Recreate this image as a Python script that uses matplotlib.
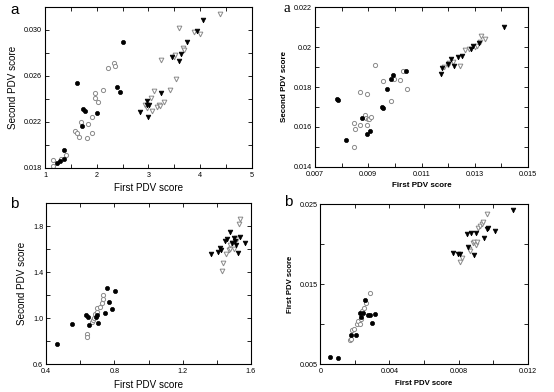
import matplotlib
matplotlib.use("Agg")
import matplotlib.pyplot as plt
from matplotlib.ticker import MultipleLocator, FixedLocator

plt.rcParams['font.family'] = ['Liberation Sans', 'DejaVu Sans']

# ---------------- Panel a (left) ----------------
a1_fc_x = [1.626, 1.729, 1.781, 1.723, 2.00, 2.40, 2.44, 2.50, 1.368, 1.374, 1.29, 1.226]
a1_fc_y = [0.02539, 0.02313, 0.02293, 0.02168, 0.02275, 0.02504, 0.02461, 0.02899, 0.01957, 0.01875, 0.01864, 0.01841]
a1_oc_x = [1.16, 1.148, 1.30, 1.40, 1.58, 1.626, 1.66, 1.70, 1.826, 1.82, 1.90, 1.91, 1.96, 1.97, 2.03, 2.13, 2.21, 2.34, 2.35]
a1_oc_y = [0.01872, 0.01814, 0.01878, 0.0191, 0.0212, 0.0210, 0.02067, 0.0220, 0.0218, 0.0206, 0.0224, 0.0210, 0.0241, 0.0245, 0.0237, 0.0248, 0.02667, 0.02713, 0.02687]
a1_ft_x = [2.84, 2.97, 2.97, 3.01, 3.00, 3.25, 3.46, 3.59, 3.63, 3.74, 3.94, 4.06]
a1_ft_y = [0.0229, 0.0238, 0.02348, 0.02348, 0.02246, 0.0245, 0.02765, 0.02728, 0.02794, 0.02893, 0.02989, 0.03084]
a1_ot_x = [2.94, 2.97, 3.06, 3.05, 3.11, 3.16, 3.21, 3.23, 3.29, 3.25, 3.42, 3.50, 3.52, 3.54, 3.59, 3.66, 3.68, 3.87, 3.99, 4.39]
a1_ot_y = [0.02348, 0.0232, 0.0230, 0.0241, 0.0247, 0.0233, 0.0235, 0.0234, 0.0237, 0.02737, 0.0248, 0.02763, 0.02786, 0.02578, 0.0302, 0.02844, 0.02824, 0.02983, 0.02966, 0.03142]

# ---------------- Panel a (right) ----------------
a2_fc_x = [0.00782, 0.00786, 0.00816, 0.00877, 0.00896, 0.00907, 0.00950, 0.00956, 0.00971, 0.00984, 0.00992, 0.01040]
a2_fc_y = [0.01741, 0.01736, 0.01532, 0.01643, 0.01564, 0.01579, 0.01698, 0.01696, 0.01792, 0.01839, 0.01862, 0.0188]
a2_oc_x = [0.00848, 0.00848, 0.00850, 0.00868, 0.0087, 0.00886, 0.00893, 0.00896, 0.00898, 0.00903, 0.00896, 0.00912, 0.00927, 0.00954, 0.00985, 0.00998, 0.01019, 0.01029, 0.01047]
a2_oc_y = [0.01497, 0.01618, 0.01587, 0.01775, 0.01608, 0.01658, 0.01643, 0.01611, 0.01641, 0.01641, 0.01765, 0.01648, 0.01909, 0.01832, 0.01731, 0.01842, 0.01835, 0.0188, 0.01788]
a2_ft_x = [0.01173, 0.01177, 0.01201, 0.0121, 0.01221, 0.01236, 0.01252, 0.01287, 0.01292, 0.01315, 0.0141]
a2_ft_y = [0.01865, 0.01894, 0.01917, 0.01942, 0.01907, 0.01952, 0.01954, 0.01989, 0.02008, 0.02023, 0.0210]
a2_ot_x = [0.01186, 0.01198, 0.01205, 0.01217, 0.01243, 0.01262, 0.01277, 0.0130, 0.01307, 0.0132, 0.01325, 0.0134]
a2_ot_y = [0.01899, 0.01911, 0.01919, 0.01926, 0.01906, 0.01986, 0.01991, 0.02003, 0.02004, 0.02028, 0.02056, 0.0204]

# ---------------- Panel b (left) ----------------
b1_fc_x = [0.466, 0.554, 0.636, 0.644, 0.652, 0.693, 0.697, 0.703, 0.748, 0.758, 0.769, 0.787, 0.804]
b1_fc_y = [0.777, 0.948, 1.029, 1.015, 0.939, 1.015, 1.026, 0.962, 1.046, 1.267, 1.139, 1.078, 1.235]
b1_oc_x = [0.638, 0.642, 0.668, 0.676, 0.683, 0.687, 0.697, 0.701, 0.717, 0.726, 0.732, 0.736]
b1_oc_y = [0.864, 0.838, 0.968, 0.986, 1.003, 1.035, 1.055, 1.093, 1.102, 1.136, 1.200, 1.171]
b1_ft_x = [1.365, 1.406, 1.420, 1.424, 1.449, 1.459, 1.479, 1.490, 1.498, 1.510, 1.522, 1.537, 1.567, 1.504]
b1_ft_y = [1.560, 1.577, 1.609, 1.591, 1.673, 1.687, 1.751, 1.652, 1.702, 1.638, 1.565, 1.707, 1.652, 1.673]
b1_ot_x = [1.430, 1.434, 1.455, 1.471, 1.479, 1.475, 1.488, 1.510, 1.518, 1.531, 1.537, 1.498]
b1_ot_y = [1.412, 1.484, 1.557, 1.591, 1.606, 1.635, 1.652, 1.702, 1.687, 1.818, 1.867, 1.600]

# ---------------- Panel b (right) ----------------
b2_fc_x = [0.00058, 0.00100, 0.00178, 0.00207, 0.00232, 0.00234, 0.00247, 0.00261, 0.00274, 0.00286, 0.00301, 0.00315]
b2_fc_y = [0.00592, 0.00575, 0.00863, 0.00863, 0.01142, 0.01088, 0.01146, 0.0130, 0.01121, 0.01113, 0.01017, 0.01125]
b2_oc_x = [0.0017, 0.00178, 0.00185, 0.00193, 0.00212, 0.0022, 0.00228, 0.00235, 0.00243, 0.00255, 0.00266, 0.0029]
b2_oc_y = [0.0080, 0.00821, 0.00925, 0.00938, 0.01008, 0.01038, 0.0100, 0.01063, 0.01167, 0.01208, 0.01263, 0.01396]
b2_ft_x = [0.00768, 0.00799, 0.00811, 0.00847, 0.00853, 0.00874, 0.0089, 0.00903, 0.00946, 0.00965, 0.00969, 0.01013, 0.01116]
b2_ft_y = [0.01888, 0.01875, 0.01875, 0.02125, 0.0197, 0.02146, 0.01867, 0.02146, 0.02075, 0.02188, 0.02208, 0.02163, 0.02429]
b2_ot_x = [0.00807, 0.0082, 0.00859, 0.00865, 0.00882, 0.00892, 0.00901, 0.00907, 0.00911, 0.00923, 0.00934, 0.00942, 0.00965]
b2_ot_y = [0.01779, 0.01833, 0.01938, 0.01917, 0.0202, 0.02033, 0.01992, 0.0203, 0.02208, 0.02229, 0.0225, 0.02279, 0.02383]

fig = plt.figure(figsize=(5.54, 3.92), dpi=100)

GRAY = '#8a8a8a'


def draw(ax, fc, oc, ft, ot):
    ms = 3.0
    ax.plot(oc[0], oc[1], 'o', ms=ms, mfc='white', mec=GRAY, mew=0.7, ls='none')
    ax.plot(ot[0], ot[1], 'v', ms=ms + 0.4, mfc='white', mec=GRAY, mew=0.7, ls='none')
    ax.plot(fc[0], fc[1], 'o', ms=ms, mfc='black', mec='black', mew=0.5, ls='none')
    ax.plot(ft[0], ft[1], 'v', ms=ms + 0.4, mfc='black', mec='black', mew=0.5, ls='none')


def style(ax, xlim, ylim, xmaj, xmin, ymaj, ymin, xfmt, yfmt, xlabel, ylabel, bold, lsize):
    ax.set_xlim(*xlim)
    ax.set_ylim(*ylim)
    ax.xaxis.set_major_locator(FixedLocator(xmaj))
    ax.xaxis.set_minor_locator(MultipleLocator(xmin))
    ax.yaxis.set_major_locator(FixedLocator(ymaj))
    ax.yaxis.set_minor_locator(MultipleLocator(ymin))
    ax.set_xticklabels([xfmt(v) for v in xmaj])
    ax.set_yticklabels([yfmt(v) for v in ymaj])
    ax.tick_params(which='both', direction='in', top=True, right=True, labelsize=5.2)
    ax.tick_params(axis='x', pad=3)
    ax.tick_params(axis='y', pad=2)
    ax.tick_params(which='major', length=3, width=0.6)
    ax.tick_params(which='minor', length=3, width=0.6)
    for s in ax.spines.values():
        s.set_linewidth(0.8)
    w = 'bold' if bold else 'normal'
    ax.set_xlabel(xlabel, fontsize=lsize, fontweight=w, labelpad=3)
    ax.set_ylabel(ylabel, fontsize=lsize, fontweight=w, labelpad=4)


# Top-left
ax1 = fig.add_axes([45 / 554, 1 - 168 / 392, 207 / 554, 161 / 392])
draw(ax1, (a1_fc_x, a1_fc_y), (a1_oc_x, a1_oc_y), (a1_ft_x, a1_ft_y), (a1_ot_x, a1_ot_y))
style(ax1, (1, 5), (0.018, 0.032), [1, 2, 3, 4, 5], 0.5,
      [0.018, 0.022, 0.026, 0.030], 0.002,
      lambda v: f"{v:g}", lambda v: f"{v:.3f}",
      "First PDV score", "Second PDV score", False, 7.1)

# Top-right
ax2 = fig.add_axes([315 / 554, 1 - 166.7 / 392, 213 / 554, 159.4 / 392])
draw(ax2, (a2_fc_x, a2_fc_y), (a2_oc_x, a2_oc_y), (a2_ft_x, a2_ft_y), (a2_ot_x, a2_ot_y))
style(ax2, (0.007, 0.015), (0.014, 0.022), [0.007, 0.009, 0.011, 0.013, 0.015], 0.001,
      [0.014, 0.016, 0.018, 0.02, 0.022], 0.001,
      lambda v: f"{v:.3f}", lambda v: f"{v:g}",
      "First PDV score", "Second PDV score", True, 5.8)

# Bottom-left
ax3 = fig.add_axes([46 / 554, 1 - 364.3 / 392, 205 / 554, 161 / 392])
draw(ax3, (b1_fc_x, b1_fc_y), (b1_oc_x, b1_oc_y), (b1_ft_x, b1_ft_y), (b1_ot_x, b1_ot_y))
style(ax3, (0.4, 1.6), (0.6, 2.0), [0.4, 0.8, 1.2, 1.6], 0.2,
      [0.6, 1.0, 1.4, 1.8], 0.2,
      lambda v: f"{v:.1f}", lambda v: f"{v:.1f}",
      "First PDV score", "Second PDV score", False, 7.1)

# Bottom-right
ax4 = fig.add_axes([320.3 / 554, 1 - 364.3 / 392, 207.4 / 554, 160 / 392])
draw(ax4, (b2_fc_x, b2_fc_y), (b2_oc_x, b2_oc_y), (b2_ft_x, b2_ft_y), (b2_ot_x, b2_ot_y))
style(ax4, (0, 0.012), (0.005, 0.025), [0, 0.004, 0.008, 0.012], 0.002,
      [0.005, 0.015, 0.025], 0.005,
      lambda v: f"{v:g}", lambda v: f"{v:.3f}",
      "First PDV score", "First PDV score", True, 5.6)

# Panel letters
fig.text(10 / 554, 1 - 10 / 392, "a", fontsize=11, va='center', ha='left')
fig.text(284 / 554, 1 - 9 / 392, "a", fontsize=11, va='center', ha='left', family=['Liberation Serif'])
fig.text(10 / 554, 1 - 204 / 392, "b", fontsize=11, va='center', ha='left')
fig.text(284 / 554, 1 - 202 / 392, "b", fontsize=11, va='center', ha='left')

fig.savefig("out.png", dpi=100)
